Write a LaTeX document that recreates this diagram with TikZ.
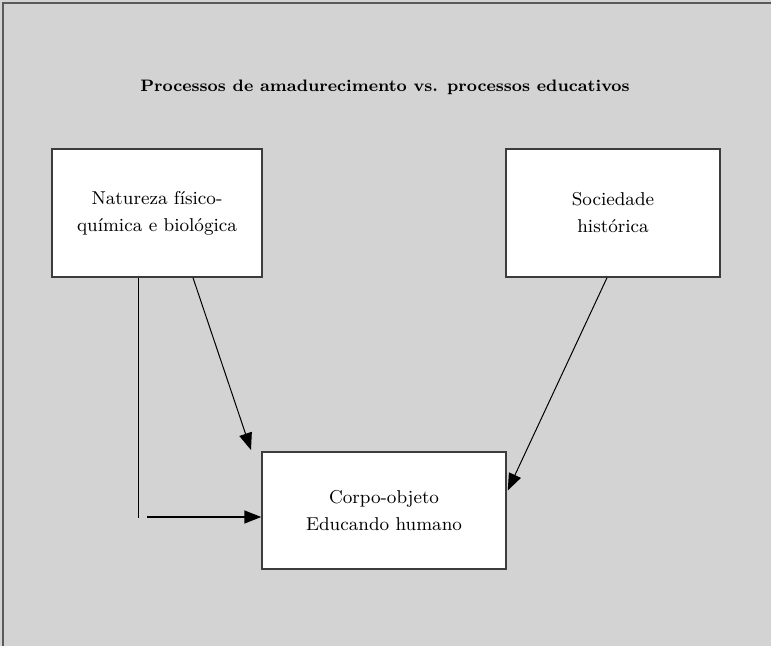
\documentclass[tikz,border=0pt]{standalone}
\usepackage{amsmath}
\usepackage{tikz}
\usepackage{xcolor}
\usetikzlibrary{arrows.meta,positioning,calc}

\definecolor{fundo}{HTML}{D3D3D3}
\definecolor{moldura}{HTML}{5A5A5A}
\definecolor{borda}{HTML}{3C3C3C}

\begin{document}
\begin{tikzpicture}[
    x=0.5pt, y=-0.5pt,
    box/.style={rectangle, draw=borda, line width=0.75pt, fill=white, align=center, inner sep=0pt, font=\fontsize{9.3}{13.5}\selectfont},
    arrow/.style={-{Triangle[length=8.5pt,width=6.5pt]}, line width=0.5pt},
    linha/.style={line width=0.5pt}
]
    \useasboundingbox[fill=fundo] (0,0) rectangle (771,646);
    \draw[moldura, line width=1pt] (3,646) -- (3,3) -- (771,3);

    \node[font=\bfseries\fontsize{8.3}{10}\selectfont] (titulo) at (385,87) {Processos de amadurecimento vs. processos educativos};

    \node[box, minimum width=105pt, minimum height=64pt] (natureza) at (157,213) {Natureza físico-\\química e biológica};
    \node[box, minimum width=107pt, minimum height=64pt] (sociedade) at (613,213) {Sociedade\\histórica};
    \node[box, minimum width=122pt, minimum height=58.5pt] (corpo) at (384,510.5) {Corpo-objeto\\Educando humano};

    \coordinate (canto) at (138,518);
    \coordinate (inicio) at (147,517);
    \coordinate (ponta) at (251,450);

    \draw[linha] (natureza.south -| canto) -- (canto);
    \draw[arrow, line width=0.8pt] (inicio) -- (corpo.west |- inicio);
    \draw[arrow] ($(natureza.south)+(36,0)$) -- (ponta);
    \draw[arrow] ($(sociedade.south)+(-6,0)$) -- ($(corpo.east)+(1,-20)$);
\end{tikzpicture}
\end{document}
